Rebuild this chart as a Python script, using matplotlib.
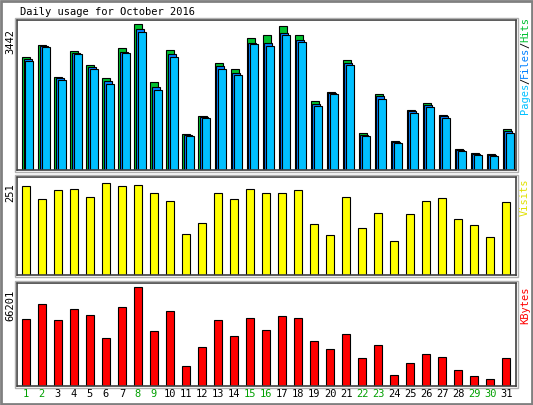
import matplotlib
matplotlib.use("Agg")
import matplotlib.pyplot as plt
from matplotlib.patches import Rectangle

days = list(range(1, 32))
weekend = [1, 2, 8, 9, 15, 16, 22, 23, 29, 30]
hits = [2659, 2944, 2208, 2801, 2493, 2184, 2873, 3442, 2090, 2825, 855, 1282, 2540, 2398, 3110, 3181, 3395, 3181, 1638, 1851, 2611, 878, 1804, 688, 1424, 1591, 1306, 498, 403, 380, 973]
files = [2620, 2920, 2170, 2760, 2440, 2100, 2800, 3340, 1960, 2740, 830, 1250, 2450, 2300, 3010, 3000, 3240, 3080, 1560, 1820, 2540, 830, 1740, 660, 1390, 1530, 1270, 470, 380, 360, 920]
pages = [2588, 2896, 2137, 2730, 2398, 2042, 2754, 3252, 1899, 2682, 807, 1234, 2398, 2255, 2967, 2919, 3181, 3015, 1520, 1804, 2493, 807, 1685, 640, 1353, 1496, 1234, 451, 356, 332, 878]
visits = [243, 207, 234, 237, 215, 251, 243, 248, 226, 204, 113, 143, 226, 207, 237, 226, 226, 234, 140, 110, 215, 129, 171, 94, 168, 204, 212, 154, 138, 105, 201]
kbytes = [44600, 54500, 43900, 51700, 47400, 32000, 53100, 66201, 37000, 49800, 13500, 26300, 43900, 33400, 45200, 37600, 46600, 45200, 29900, 24900, 34800, 18500, 27700, 7100, 15600, 21300, 19200, 10700, 6400, 5000, 18500]

W, H = 533, 405
fig = plt.figure(figsize=(W/100, H/100), dpi=100)
fig.patch.set_facecolor("white")
mono = "DejaVu Sans Mono"

def fx(x): return x / W
def fy(y): return 1 - y / H

# outer border
fig.add_artist(Rectangle((fx(1), fy(404)), fx(531), 403/H, transform=fig.transFigure,
                         fill=False, edgecolor="#808080", lw=2))

def panel(y0, y1):
    ax = fig.add_axes([fx(17), fy(y1), fx(499), (y1 - y0) / H])
    ax.set_xlim(0.45, 31.6)
    ax.set_xticks([]); ax.set_yticks([])
    for s in ax.spines.values():
        s.set_edgecolor("#404040"); s.set_linewidth(1.2)
    # shadow frame
    fig.add_artist(Rectangle((fx(15), fy(y1 + 2)), fx(503), (y1 - y0 + 4) / H,
                             transform=fig.transFigure, fill=False, edgecolor="#b0b0b0", lw=1))
    return ax

ax1 = panel(20, 170)
ax1.set_ylim(0, 3442 * 1.03)
for d, h, f, p in zip(days, hits, files, pages):
    ax1.bar(d - 0.22, h, width=0.5, color="#00c030", edgecolor="black", lw=0.8, align="edge")
    ax1.bar(d - 0.12, f, width=0.5, color="#0080ff", edgecolor="black", lw=0.8, align="edge")
    ax1.bar(d - 0.02, p, width=0.5, color="#00c0ff", edgecolor="black", lw=0.8, align="edge")

ax2 = panel(177, 275)
ax2.set_ylim(0, 251 * 1.07)
ax2.bar(days, visits, width=0.5, color="#ffff00", edgecolor="black", lw=0.8)

ax3 = panel(283, 386)
ax3.set_ylim(0, 66201 * 1.04)
ax3.bar(days, kbytes, width=0.5, color="#ff0000", edgecolor="black", lw=0.8)

fig.text(fx(20), fy(12), "Daily usage for October 2016", fontsize=7.5, family=mono, va="center")

for y, t in [(42, "3442"), (193, "251"), (305, "66201")]:
    fig.text(fx(10), fy(y), t, fontsize=7.5, family=mono, rotation=90, ha="center", va="center")

# day labels
for d in days:
    xp = 17 + (d - 0.45) / (31.6 - 0.45) * 499
    fig.text(fx(xp), fy(394), str(d), fontsize=7.5, family=mono, ha="center", va="center",
             color="#00a000" if d in weekend else "black")

def vlabel(parts, ybottom):
    cw = 6.0
    y = ybottom
    for txt, col in parts:
        fig.text(fx(525), fy(y), txt, fontsize=7.5, family=mono, rotation=90,
                 ha="center", va="bottom", color=col)
        y -= cw * len(txt)

vlabel([("Pages", "#00c0ff"), ("/", "black"), ("Files", "#0080ff"), ("/", "black"), ("Hits", "#00c030")], 114)
vlabel([("Visits", "#e0e000")], 216)
vlabel([("KBytes", "#ff0000")], 324)

fig.savefig("out.png", dpi=100)
